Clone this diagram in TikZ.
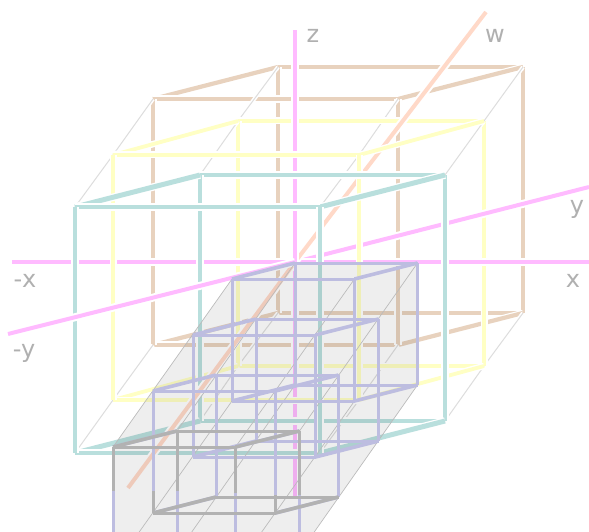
\documentclass[tikz,border=0pt]{standalone}
\usepackage{fontspec}
\setmainfont{DejaVu Sans}
\definecolor{ctan}{HTML}{E8D2BE}
\definecolor{cyel}{HTML}{FFFFC4}
\definecolor{cteal}{HTML}{B9DFDD}
\definecolor{cpink}{HTML}{FFBBFF}
\definecolor{cw}{HTML}{FFD9C8}
\definecolor{clav}{HTML}{BDBDE0}
\definecolor{cgray}{HTML}{B2B2B2}
\definecolor{cthin}{HTML}{DDDDDD}
\definecolor{cthinb}{HTML}{BBBBBB}
\definecolor{ctext}{HTML}{B0B0B0}
\newcommand\cubepts[7]{%
  \coordinate (#1A) at (#2,#3);
  \coordinate (#1B) at (#2+#4,#3);
  \coordinate (#1C) at (#2+#5,#3+#6);
  \coordinate (#1D) at (#2+#4+#5,#3+#6);
  \coordinate (#1E) at (#2,#3+#7);
  \coordinate (#1F) at (#2+#4,#3+#7);
  \coordinate (#1G) at (#2+#5,#3+#6+#7);
  \coordinate (#1H) at (#2+#4+#5,#3+#6+#7);
}
\newcommand\haloedges[2]{%
  \foreach \p/\q in {#2}{\draw[#1] (\p) -- (\q);}
}
\newcommand\wire[2]{%
  \draw[#1] (#2A)--(#2B) (#2C)--(#2D) (#2E)--(#2F) (#2G)--(#2H)
    (#2A)--(#2E) (#2B)--(#2F) (#2C)--(#2G) (#2D)--(#2H);
  \draw[#1,line width=3.6pt] (#2A)--(#2C) (#2B)--(#2D) (#2E)--(#2G) (#2F)--(#2H);
}
\tikzset{
  halo/.style={preaction={draw=white,line width=#1,line cap=butt}},
  tanline/.style={ctan,line width=3.4pt,halo=7.5pt},
  yelline/.style={cyel,line width=3.2pt,halo=7pt},
  tealline/.style={cteal,line width=4pt,halo=8pt},
  tanslant/.style={ctan,line width=4.2pt,halo=6.5pt},
  yelslant/.style={cyel,line width=3.8pt,halo=6.5pt},
  tealslant/.style={cteal,line width=5pt,halo=7.5pt},
  axisline/.style={cpink,line width=4pt,halo=8pt},
  waxis/.style={cw,line width=4pt,halo=8pt},
  thinline/.style={cthin,line width=1pt,halo=4pt},
  lavline/.style={clav,line width=3pt},
  grayline/.style={cgray,line width=3pt},
  grayslant/.style={cgray,line width=3.5pt},
  slicethin/.style={cthinb,line width=.7pt},
  lbl/.style={text=ctext,font=\fontsize{24}{24}\selectfont,inner sep=0pt,anchor=base},
}
\begin{document}
\begin{tikzpicture}[x=1pt,y=-1pt]
\useasboundingbox (0,0) rectangle (589,532);
\clip (0,0) rectangle (589,532);
\cubepts{t}{153}{99}{245}{125}{-32}{246}
\cubepts{y}{113}{155}{246}{125}{-34}{245}
\cubepts{c}{75}{207}{245}{125}{-32}{246}
\cubepts{a}{232}{279}{122.5}{63}{-16}{122}
\cubepts{b}{193}{335}{122.5}{63}{-16}{122}
\cubepts{d}{153}{391}{122.5}{63}{-16}{122}
\cubepts{e}{113}{447}{122.5}{64}{-16}{122}
\coordinate (O) at (295,262);
\coordinate (xn) at (12,262);
\coordinate (xp) at (589,262);
\coordinate (yn) at (8,334);
\coordinate (yp) at (589,187);
\coordinate (zp) at (295,30);
\coordinate (zn) at (295,497);
\coordinate (wp) at (486,12);
\coordinate (wn) at (128,488);
% outer cube
\haloedges{tanline}{tC/tD,tG/tH,tC/tG,tD/tH}
\haloedges{tanslant}{tA/tC,tB/tD,tE/tG,tF/tH}
\haloedges{tanline}{tA/tB,tE/tF,tA/tE,tB/tF}
% connecting lines
\foreach \k in {A,B,C,D,E,F,G,H}{\draw[thinline] (t\k) -- (y\k);}
\haloedges{yelline}{yC/yD,yG/yH,yC/yG,yD/yH}
% axes, behind
\draw[axisline] (O) -- (yp);
\draw[axisline] (xn) -- (xp);
\draw[waxis] (O) -- (wp);
\draw[axisline] (O) -- (zp);
\draw[axisline] (O) -- (zn);
\foreach \k in {A,B,C,D,E,F,G,H}{\draw[thinline] (y\k) -- (c\k);}
% middle and near cubes
\haloedges{yelslant}{yA/yC,yB/yD,yE/yG,yF/yH}
\haloedges{yelline}{yA/yB,yE/yF,yA/yE,yB/yF}
\haloedges{tealline}{cC/cD,cG/cH,cC/cG,cD/cH}
\haloedges{tealslant}{cA/cC,cB/cD,cE/cG,cF/cH}
\haloedges{tealline}{cA/cB,cE/cF,cA/cE,cB/cF}
% axes, in front
\draw[waxis] (O) -- (wn);
\draw[axisline] (O) -- (yn);
% slice
\fill[black,opacity=.067] (aA) -- (aC) -- (aD) -- (aH) -- (314,532) -- (113,532) -- (eA) -- cycle;
\foreach \k in {A,B,C,D,E,F,G,H}{\draw[slicethin] (a\k) -- (e\k);}
\wire{lavline}{a}
\wire{lavline}{b}
\wire{lavline}{d}
\wire{lavline}{e}
% highlighted edges
\draw[grayline] (eA) -- (eB) (eC) -- (eD) (dE) -- (dF) (dG) -- (dH);
\draw[grayslant] (eA) -- (eC) (eB) -- (eD) (dE) -- (dG) (dF) -- (dH);
\draw[grayline] (113,447) -- (113,491) (177,431) -- (177,491) (235.500,447) -- (235.500,493) (299,431) -- (299,495);
\draw[grayline] (153,491) -- (dE) (275.500,495) -- (dF);
\node[lbl] (lz) at (313,43) {z};
\node[lbl] (lw) at (495,43) {w};
\node[lbl] (ly) at (577,213) {y};
\node[lbl] (lx) at (573,287) {x};
\node[lbl] (lmx) at (25,287) {-x};
\node[lbl] (lmy) at (24,357) {-y};
\end{tikzpicture}
\end{document}
